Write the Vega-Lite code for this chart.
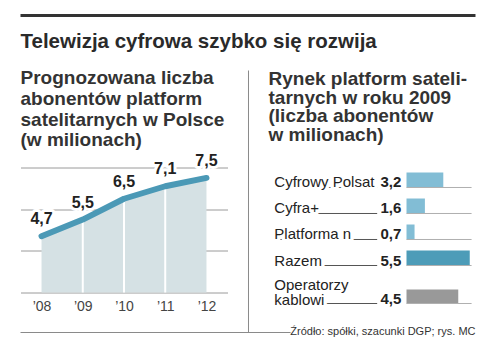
{
  "$schema": "https://vega.github.io/schema/vega-lite/v6.json",
  "padding": {"left": 18.5, "top": 13.5, "right": 0, "bottom": 0},
  "background": "white",
  "bounds": "flush",
  "spacing": 41,
  "config": {
    "view": {"stroke": null},
    "font": "Liberation Sans",
    "locale": {"number": {"decimal": ",", "thousands": " ", "grouping": [3], "currency": ["", " zł"]}}
  },
  "datasets": {
    "growth": [
      {"year": 2008, "value": 4.7},
      {"year": 2009, "value": 5.5},
      {"year": 2010, "value": 6.5},
      {"year": 2011, "value": 7.1},
      {"year": 2012, "value": 7.5}
    ],
    "market": [
      {"name": "Cyfrowy Polsat", "value": 3.2, "kind": "platforma"},
      {"name": "Cyfra+", "value": 1.6, "kind": "platforma"},
      {"name": "Platforma n", "value": 0.7, "kind": "platforma"},
      {"name": "Razem", "value": 5.5, "kind": "suma"},
      {"name": "Operatorzy\nkablowi", "value": 4.5, "kind": "kablowi"}
    ]
  },
  "hconcat": [
    {
      "width": 207,
      "height": 125,
      "data": {"name": "growth"},
      "title": {
        "text": "Telewizja cyfrowa szybko się rozwija",
        "subtitle": ["Prognozowana liczba", "abonentów platform", "satelitarnych w Polsce", "(w milionach)"],
        "anchor": "start",
        "frame": "group",
        "orient": "top",
        "offset": -136.5,
        "font": "Liberation Sans",
        "fontSize": 20.5,
        "fontWeight": "bold",
        "color": "#2a2a2a",
        "subtitleFont": "Liberation Sans",
        "subtitleFontSize": 19,
        "subtitleFontWeight": "bold",
        "subtitleColor": "#333333",
        "subtitleLineHeight": 20.7,
        "subtitlePadding": 17
      },
      "encoding": {
        "x": {
          "field": "year",
          "type": "quantitative",
          "scale": {"domain": [2007.49, 2012.51]},
          "axis": {
            "values": [2008, 2009, 2010, 2011, 2012],
            "labelExpr": "'’' + substring(toString(datum.value), 2)",
            "grid": false,
            "ticks": false,
            "domain": false,
            "title": null,
            "labelFont": "Liberation Sans",
            "labelFontSize": 14,
            "labelColor": "#444444",
            "labelPadding": 7
          }
        },
        "y": {
          "field": "value",
          "type": "quantitative",
          "scale": {"domain": [2, 8], "zero": false},
          "axis": {
            "values": [2, 4, 6, 8],
            "grid": true,
            "gridColor": "#9a9a9a",
            "labels": false,
            "ticks": false,
            "domain": false,
            "title": null
          }
        }
      },
      "layer": [
        {"mark": {"type": "area", "color": "#d5e1e4"}, "encoding": {"y2": {"datum": 2}}},
        {
          "transform": [{"filter": "datum.year > 2008 && datum.year < 2012"}],
          "mark": {"type": "rule", "color": "white", "strokeWidth": 2},
          "encoding": {"y2": {"datum": 2}}
        },
        {"mark": {"type": "line", "color": "#4b99b6", "strokeWidth": 6, "strokeCap": "round", "strokeJoin": "round"}},
        {
          "mark": {"type": "text", "fontSize": 16, "fontWeight": "bold", "dy": -12, "baseline": "alphabetic", "stroke": "white", "strokeWidth": 6, "strokeJoin": "round", "fill": "white"},
          "encoding": {"text": {"field": "value", "type": "quantitative", "format": ".1f"}}
        },
        {
          "mark": {"type": "text", "fontSize": 16, "fontWeight": "bold", "dy": -12, "baseline": "alphabetic", "color": "#222222"},
          "encoding": {"text": {"field": "value", "type": "quantitative", "format": ".1f"}}
        },
        {
          "transform": [{"filter": "datum.year == 2008"}],
          "mark": {"type": "rule", "color": "#333333", "strokeWidth": 3},
          "encoding": {"x": {"datum": 2007.49}, "x2": {"datum": 2018.524}, "y": {"datum": 15.296}}
        },
        {
          "transform": [{"filter": "datum.year == 2008"}],
          "mark": {"type": "rule", "color": "#8a8a8a", "strokeWidth": 1},
          "encoding": {"x": {"datum": 2013.019}, "y": {"datum": 12.656}, "y2": {"datum": 0.08}}
        },
        {
          "transform": [{"filter": "datum.year == 2008"}],
          "mark": {"type": "rule", "color": "#8a8a8a", "strokeWidth": 1},
          "encoding": {"x": {"datum": 2007.49}, "x2": {"datum": 2014.04}, "y": {"datum": 0.08}}
        }
      ]
    },
    {
      "bounds": "flush",
      "spacing": 19,
      "vconcat": [
        {
          "width": 207,
          "height": 103,
          "data": {"name": "market"},
          "transform": [{"filter": "datum.kind != 'kablowi'"}],
          "title": {
            "text": ["Rynek platform sateli-", "tarnych w roku 2009", "(liczba abonentów", "w milionach)"],
            "anchor": "start",
            "frame": "group",
            "orient": "top",
            "offset": 23,
            "font": "Liberation Sans",
            "fontSize": 19,
            "fontWeight": "bold",
            "color": "#333333",
            "lineHeight": 18.5
          },
          "encoding": {
            "y": {"field": "name", "type": "nominal", "sort": null, "scale": {"paddingInner": 0.4231, "paddingOuter": 0.1923}, "axis": null}
          },
          "layer": [
            {
              "mark": {"type": "bar"},
              "encoding": {
                "x": {"field": "value", "type": "quantitative", "scale": {"domain": [-11.49, 5.5]}, "axis": null},
                "x2": {"datum": 0},
                "color": {"field": "kind", "type": "nominal", "scale": {"domain": ["platforma", "suma", "kablowi"], "range": ["#82bdd5", "#4d9cb8", "#999999"]}, "legend": null}
              }
            },
            {
              "mark": {"type": "rule", "color": "#b0b0b0", "strokeWidth": 1},
              "encoding": {"x": {"datum": 0}, "x2": {"datum": 5.66}, "y": {"field": "name", "type": "nominal", "sort": null, "bandPosition": 1}}
            },
            {
              "mark": {"type": "rule", "color": "#555555", "strokeWidth": 1},
              "encoding": {"x": {"datum": -11.49}, "x2": {"datum": -2.55}, "y": {"field": "name", "type": "nominal", "sort": null, "bandPosition": 1}}
            },
            {
              "mark": {"type": "text", "align": "left", "baseline": "alphabetic", "fontSize": 15, "stroke": "white", "strokeWidth": 7, "strokeJoin": "round", "fill": "white"},
              "encoding": {"x": {"datum": -11.49}, "y": {"field": "name", "type": "nominal", "sort": null, "bandPosition": 1}, "text": {"field": "name"}}
            },
            {
              "mark": {"type": "text", "align": "left", "baseline": "alphabetic", "fontSize": 15, "color": "#222222"},
              "encoding": {"x": {"datum": -11.49}, "y": {"field": "name", "type": "nominal", "sort": null, "bandPosition": 1}, "text": {"field": "name"}}
            },
            {
              "mark": {"type": "text", "align": "right", "baseline": "alphabetic", "fontSize": 15, "fontWeight": "bold", "color": "#222222"},
              "encoding": {"x": {"datum": -0.45}, "y": {"field": "name", "type": "nominal", "sort": null, "bandPosition": 1}, "text": {"field": "value", "type": "quantitative", "format": ".1f"}}
            }
          ]
        },
        {
          "width": 207,
          "height": 14,
          "data": {"name": "market"},
          "transform": [{"filter": "datum.kind == 'kablowi'"}],
          "title": {
            "text": "Źródło: spółki, szacunki DGP; rys. MC",
            "anchor": "end",
            "frame": "group",
            "orient": "bottom",
            "offset": 18,
            "font": "Liberation Sans",
            "fontSize": 11,
            "fontWeight": "normal",
            "color": "#333333"
          },
          "encoding": {
            "y": {"field": "name", "type": "nominal", "sort": null, "scale": {"paddingInner": 0, "paddingOuter": 0}, "axis": null}
          },
          "layer": [
            {
              "mark": {"type": "bar"},
              "encoding": {
                "x": {"field": "value", "type": "quantitative", "scale": {"domain": [-11.49, 5.5]}, "axis": null},
                "x2": {"datum": 0},
                "color": {"field": "kind", "type": "nominal", "scale": {"domain": ["platforma", "suma", "kablowi"], "range": ["#82bdd5", "#4d9cb8", "#999999"]}, "legend": null}
              }
            },
            {
              "mark": {"type": "rule", "color": "#b0b0b0", "strokeWidth": 1},
              "encoding": {"x": {"datum": 0}, "x2": {"datum": 5.66}, "y": {"field": "name", "type": "nominal", "sort": null, "bandPosition": 1}}
            },
            {
              "mark": {"type": "rule", "color": "#555555", "strokeWidth": 1},
              "encoding": {"x": {"datum": -11.49}, "x2": {"datum": -2.55}, "y": {"field": "name", "type": "nominal", "sort": null, "bandPosition": 1}}
            },
            {
              "mark": {"type": "text", "align": "left", "baseline": "alphabetic", "fontSize": 15, "lineHeight": 15, "dy": -14, "lineBreak": "\n", "stroke": "white", "strokeWidth": 7, "strokeJoin": "round", "fill": "white"},
              "encoding": {"x": {"datum": -11.49}, "y": {"field": "name", "type": "nominal", "sort": null, "bandPosition": 1}, "text": {"field": "name"}}
            },
            {
              "mark": {"type": "text", "align": "left", "baseline": "alphabetic", "fontSize": 15, "lineHeight": 15, "dy": -14, "lineBreak": "\n", "color": "#222222"},
              "encoding": {"x": {"datum": -11.49}, "y": {"field": "name", "type": "nominal", "sort": null, "bandPosition": 1}, "text": {"field": "name"}}
            },
            {
              "mark": {"type": "text", "align": "right", "baseline": "alphabetic", "fontSize": 15, "fontWeight": "bold", "color": "#222222"},
              "encoding": {"x": {"datum": -0.45}, "y": {"field": "name", "type": "nominal", "sort": null, "bandPosition": 1}, "text": {"field": "value", "type": "quantitative", "format": ".1f"}}
            }
          ]
        }
      ]
    }
  ]
}
